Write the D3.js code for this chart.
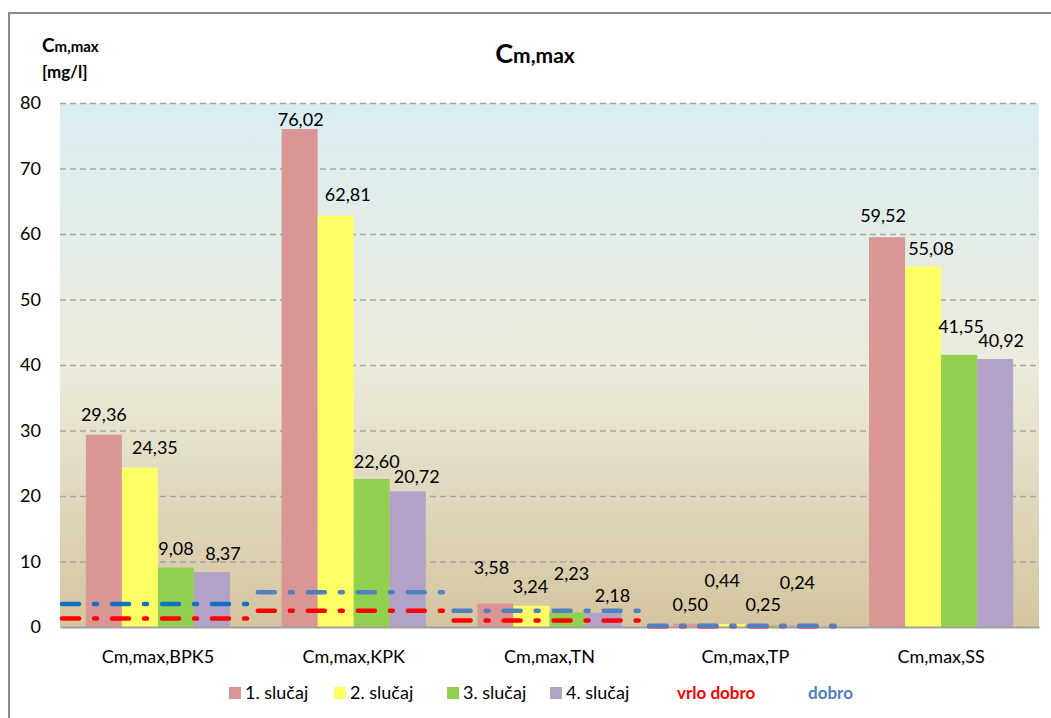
<!DOCTYPE html>
<html lang="hr">
<head>
<meta charset="UTF-8">
<title>Cm,max</title>
<script src="https://cdn.jsdelivr.net/npm/d3@7"></script>
<style>
  body { margin: 0; background: #fff; }
  svg text { font-family: Lato, "Open Sans", sans-serif; fill: #000; }
</style>
</head>
<body>
<script>
// data
var categories = ["Cm,max,BPK5", "Cm,max,KPK", "Cm,max,TN", "Cm,max,TP", "Cm,max,SS"];
var seriesNames = ["1. slučaj", "2. slučaj", "3. slučaj", "4. slučaj"];
var slucaj1 = [29.36, 76.02, 3.58, 0.50, 59.52];
var slucaj2 = [24.35, 62.81, 3.24, 0.44, 55.08];
var slucaj3 = [9.08, 22.60, 2.23, 0.25, 41.55];
var slucaj4 = [8.37, 20.72, 2.18, 0.24, 40.92];
var vrloDobro = [1.3, 2.5, 1.0, 0.1, null];
var dobro = [3.5, 5.3, 2.5, 0.2, null];
var yTicks = [0, 10, 20, 30, 40, 50, 60, 70, 80];

var allSeries = [slucaj1, slucaj2, slucaj3, slucaj4];
var colors = ["#D99694", "#FFFF66", "#92D050", "#B3A2C7"];

// label nudges [dx, gap above bar] per series, per category (labels were hand-placed)
var labelNudge = [
  [[0, 14], [1, 3], [-4, 30], [-1, 13], [-4, 15]],
  [[15, 14], [12, 15], [-1, 13], [-5, 37], [8, 11]],
  [[0, 13], [5, 11], [4, 32], [0, 14], [2, 22]],
  [[11, 12], [9, 8], [9, 11], [-2, 36], [6, 12]]
];

var W = 1051, H = 718;
var margin = {top: 103, right: 12, bottom: 91, left: 60};
var width = W - margin.left - margin.right,
    height = H - margin.top - margin.bottom;

var svg = d3.select("body").append("svg")
    .attr("width", W)
    .attr("height", H);

// outer chart frame
svg.append("rect")
    .attr("x", 9).attr("y", 13)
    .attr("width", 1080).attr("height", 740)
    .attr("fill", "#fff")
    .attr("stroke", "#8c8c8c")
    .attr("stroke-width", 2);

var defs = svg.append("defs");
var grad = defs.append("linearGradient")
    .attr("id", "bg").attr("x1", 0).attr("y1", 0).attr("x2", 0).attr("y2", 1);
grad.append("stop").attr("offset", "0%").attr("stop-color", "#DAEEF3");
grad.append("stop").attr("offset", "50%").attr("stop-color", "#ECEBDC");
grad.append("stop").attr("offset", "100%").attr("stop-color", "#D4C59F");

var g = svg.append("g")
    .attr("transform", "translate(" + margin.left + "," + margin.top + ")");

g.append("rect")
    .attr("width", width).attr("height", height)
    .attr("fill", "url(#bg)");

var x0 = d3.scaleBand().domain(categories).range([0, width]);
var gap = x0.bandwidth() * 0.132;
var x1 = d3.scaleBand().domain(d3.range(4)).range([gap, x0.bandwidth() - gap]);
var y = d3.scaleLinear().domain([0, 80]).range([height, 0]);

// y axis with dashed gridlines
var yAxis = g.append("g")
    .call(d3.axisLeft(y).tickValues(yTicks).tickSize(-width).tickPadding(19));
yAxis.select(".domain").remove();
yAxis.selectAll(".tick line")
    .attr("stroke", "#a6a6a6")
    .attr("stroke-width", 1.3)
    .attr("stroke-dasharray", "6,4")
    .attr("opacity", function(d) { return d === 0 ? 0 : 1; });
yAxis.selectAll(".tick text")
    .style("font-size", "18px")
    .attr("fill", "#000");

// bars
var fmt = function(v) { return d3.format(".2f")(v).replace(".", ","); };
allSeries.forEach(function(vals, s) {
  g.append("g").selectAll("rect")
    .data(vals)
    .enter().append("rect")
    .attr("x", function(d, i) { return x0(categories[i]) + x1(s); })
    .attr("y", function(d) { return y(d); })
    .attr("width", x1.bandwidth())
    .attr("height", function(d) { return height - y(d); })
    .attr("fill", colors[s]);
});

// bottom axis
var xAxis = g.append("g")
    .attr("transform", "translate(0," + height + ")")
    .call(d3.axisBottom(x0).tickSize(0).tickPadding(0));
xAxis.select(".domain")
    .attr("stroke", "#a0a0a0")
    .attr("stroke-width", 2);
xAxis.selectAll(".tick text")
    .attr("y", 36).attr("dy", 0)
    .style("font-size", "18px")
    .attr("fill", "#000");

// reference lines: vrlo dobro (red) and dobro (blue)
function refLine(vals, color) {
  vals.forEach(function(v, i) {
    if (v === null) return;
    g.append("line")
      .attr("x1", x0(categories[i]) + 2)
      .attr("x2", x0(categories[i]) + x0.bandwidth() - 2)
      .attr("y1", y(v)).attr("y2", y(v))
      .attr("stroke", typeof color === "function" ? color(i) : color)
      .attr("stroke-width", 4.5)
      .attr("stroke-linecap", "round")
      .attr("stroke-dasharray", "17,15,3,15");
  });
}
refLine(vrloDobro, "#FF0000");
refLine(dobro, function(i) { return i === 0 ? "#1170C2" : "#5080C0"; });

// value labels
allSeries.forEach(function(vals, s) {
  g.append("g").selectAll("text")
    .data(vals)
    .enter().append("text")
    .attr("x", function(d, i) { return x0(categories[i]) + x1(s) + x1.bandwidth() / 2 + labelNudge[s][i][0]; })
    .attr("y", function(d, i) { return y(d) - labelNudge[s][i][1]; })
    .attr("text-anchor", "middle")
    .style("font-size", "18px")
    .text(fmt);
});

// title
var title = svg.append("text")
    .attr("x", 535).attr("y", 63)
    .attr("text-anchor", "middle")
    .style("font-weight", "bold");
title.append("tspan").style("font-size", "27px").text("C");
title.append("tspan").style("font-size", "21px").text("m,max");

// y axis label
var yl = svg.append("text")
    .attr("x", 42).attr("y", 52)
    .style("font-weight", "bold");
yl.append("tspan").style("font-size", "19px").text("C");
yl.append("tspan").style("font-size", "15px").text("m,max");
svg.append("text")
    .attr("x", 42).attr("y", 78)
    .style("font-weight", "bold")
    .style("font-size", "17px")
    .text("[mg/l]");

// legend
var legendX = [229, 334, 447, 550];
seriesNames.forEach(function(name, s) {
  svg.append("rect")
    .attr("x", legendX[s]).attr("y", 687)
    .attr("width", 12).attr("height", 12)
    .attr("fill", colors[s]);
  svg.append("text")
    .attr("x", legendX[s] + 16).attr("y", 699)
    .style("font-size", "18px")
    .text(name);
});
svg.append("text")
    .attr("x", 677).attr("y", 699)
    .style("font-size", "17px").style("font-weight", "bold")
    .style("fill", "#FF0000")
    .text("vrlo dobro");
svg.append("text")
    .attr("x", 808).attr("y", 699)
    .style("font-size", "17px").style("font-weight", "bold")
    .style("fill", "#5080C0")
    .text("dobro");
</script>
</body>
</html>
